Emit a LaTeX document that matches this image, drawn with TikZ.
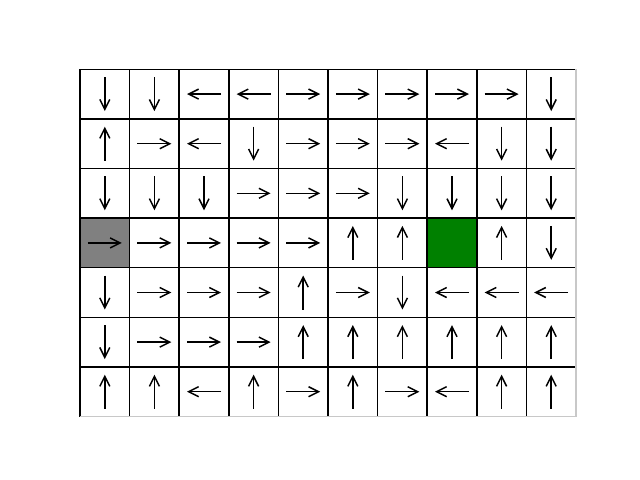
\documentclass[tikz,border=0pt]{standalone}
\usetikzlibrary{arrows.meta}
\definecolor{goalgreen}{RGB}{0,128,0}
\definecolor{startgray}{RGB}{128,128,128}
\definecolor{edgegray}{RGB}{200,200,200}
\begin{document}
\begin{tikzpicture}[x=0.025cm,y=-0.025cm,
  cell/.style={draw=black,line width=1.1pt,minimum size=1.24cm,inner sep=0pt,outer sep=0pt},
  arr/.style={line width=1.05pt,-{Straight Barb[length=0.25cm,width=0.25cm]}}]
\useasboundingbox (0,0) rectangle (640,480);
\foreach \r in {0,...,6}{
  \foreach \c in {0,...,9}{
    \node[cell] (c\c-\r) at ({80+49.6*(\c+0.5)},{69.3+49.6*(\r+0.5)}) {};
  }
}
\node[cell,fill=startgray] (start) at (c0-3.center) {};
\node[cell,fill=goalgreen] (goal) at (c7-3.center) {};
\draw[edgegray,line width=1.1pt] (c0-6.south west) -- (c9-6.south east) -- (c9-0.north east);
\foreach \row [count=\r from 0] in {
  {0/1,0/1,-1/0,-1/0,1/0,1/0,1/0,1/0,1/0,0/1},
  {0/-1,1/0,-1/0,0/1,1/0,1/0,1/0,-1/0,0/1,0/1},
  {0/1,0/1,0/1,1/0,1/0,1/0,0/1,0/1,0/1,0/1},
  {1/0,1/0,1/0,1/0,1/0,0/-1,0/-1,0/0,0/-1,0/1},
  {0/1,1/0,1/0,1/0,0/-1,1/0,0/1,-1/0,-1/0,-1/0},
  {0/1,1/0,1/0,1/0,0/-1,0/-1,0/-1,0/-1,0/-1,0/-1},
  {0/-1,0/-1,-1/0,0/-1,1/0,0/-1,1/0,-1/0,0/-1,0/-1}}{
  \foreach \dx/\dy [count=\cc from 0] in \row {
    \ifnum\numexpr\dx*\dx+\dy*\dy\relax>0
      \draw[arr] ([shift={({-17*\dx},{-17*\dy})}]c\cc-\r.center) -- ([shift={({17*\dx},{17*\dy})}]c\cc-\r.center);
    \fi
  }
}
\end{tikzpicture}
\end{document}
